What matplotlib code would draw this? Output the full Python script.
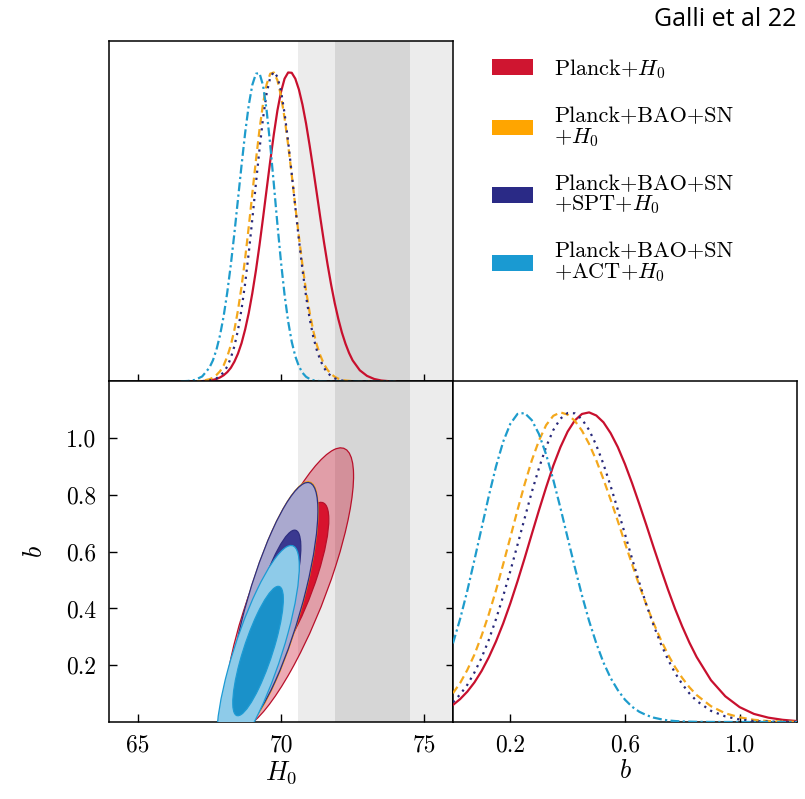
import numpy as np
import matplotlib

matplotlib.use("Agg")
import matplotlib.pyplot as plt
from matplotlib.patches import Ellipse, Patch

plt.rcParams["font.family"] = "serif"
plt.rcParams["font.serif"] = ["cmr10", "DejaVu Serif"]
plt.rcParams["mathtext.fontset"] = "cm"
plt.rcParams["axes.formatter.use_mathtext"] = False
plt.rcParams["axes.linewidth"] = 1.1

# ---- data ----
labels = [
    "Planck+$H_0$",
    "Planck+BAO+SN\n+$H_0$",
    "Planck+BAO+SN\n+SPT+$H_0$",
    "Planck+BAO+SN\n+ACT+$H_0$",
]
colors = ["#cf1530", "#ffa500", "#2a2a86", "#1a9ad2"]

h0_ticks = [65, 70, 75]
h0_tick_labels = ["65", "70", "75"]
b_ticks = [0.2, 0.4, 0.6, 0.8, 1.0]
b_tick_labels = ["0.2", "0.4", "0.6", "0.8", "1.0"]
b_marg_ticks = [0.2, 0.6, 1.0]
b_marg_tick_labels = ["0.2", "0.6", "1.0"]

# SH0ES-like H0 bands (2 sigma light, 1 sigma dark)
band_lo = [70.6, 71.9]
band_hi = [76.0, 74.5]

# 1D marginal of H0 (normalised to peak)
h0_grid = [66.5, 66.75, 67.0, 67.25,
           67.5, 67.625, 67.75, 67.875, 68.0, 68.125, 68.25, 68.375, 68.5, 68.625,
           68.75, 68.875, 69.0, 69.125, 69.25, 69.375, 69.5, 69.625, 69.75, 69.875,
           70.0, 70.125, 70.25, 70.375, 70.5, 70.625, 70.75, 70.875, 71.0, 71.125,
           71.25, 71.375, 71.5, 71.625, 71.75, 71.875, 72.0, 72.125, 72.25, 72.375,
           72.5, 72.75, 73.0, 73.25, 73.5, 73.75, 74.0]
h0_planck = [0.0, 0.0001, 0.0003, 0.001,
             0.003, 0.005, 0.008, 0.013, 0.020, 0.030, 0.044, 0.064, 0.090, 0.124,
             0.168, 0.221, 0.285, 0.358, 0.440, 0.529, 0.621, 0.712, 0.798, 0.875,
             0.935, 0.978, 0.998, 0.997, 0.978, 0.943, 0.894, 0.833, 0.762, 0.686,
             0.607, 0.527, 0.450, 0.378, 0.312, 0.253, 0.202, 0.158, 0.122, 0.092,
             0.068, 0.036, 0.018, 0.008, 0.003, 0.001, 0.0]
h0_bao_sn = [0.0, 0.0001, 0.0006, 0.002,
             0.007, 0.012, 0.021, 0.033, 0.052, 0.080, 0.117, 0.167, 0.230, 0.307,
             0.398, 0.499, 0.607, 0.714, 0.813, 0.898, 0.960, 0.994, 0.998, 0.973,
             0.923, 0.851, 0.764, 0.667, 0.566, 0.468, 0.375, 0.293, 0.223, 0.164,
             0.118, 0.083, 0.056, 0.037, 0.024, 0.015, 0.009, 0.005, 0.003, 0.002,
             0.001, 0.0, 0.0, 0.0, 0.0, 0.0, 0.0]
h0_spt = [0.0, 0.0, 0.0002, 0.0008,
          0.003, 0.006, 0.010, 0.018, 0.030, 0.048, 0.076, 0.114, 0.166, 0.234,
          0.317, 0.415, 0.524, 0.639, 0.750, 0.851, 0.931, 0.982, 1.0, 0.984,
          0.938, 0.866, 0.775, 0.671, 0.563, 0.458, 0.361, 0.275, 0.203, 0.145,
          0.101, 0.068, 0.044, 0.028, 0.017, 0.010, 0.006, 0.003, 0.002, 0.0009,
          0.0004, 0.0, 0.0, 0.0, 0.0, 0.0, 0.0]
h0_act = [0.0004, 0.0015, 0.005, 0.016,
          0.044, 0.068, 0.103, 0.150, 0.211, 0.287, 0.377, 0.479, 0.589, 0.699,
          0.803, 0.892, 0.958, 0.994, 0.996, 0.956, 0.875, 0.764, 0.638, 0.508,
          0.386, 0.280, 0.194, 0.128, 0.081, 0.049, 0.028, 0.015, 0.008, 0.004,
          0.002, 0.0009, 0.0004, 0.0, 0.0, 0.0, 0.0, 0.0, 0.0, 0.0,
          0.0, 0.0, 0.0, 0.0, 0.0, 0.0, 0.0]

# 1D marginal of b
b_grid = [0.0, 0.025, 0.05, 0.075, 0.1, 0.125, 0.15, 0.175, 0.2, 0.225, 0.25,
          0.275, 0.3, 0.325, 0.35, 0.375, 0.4, 0.425, 0.45, 0.475, 0.5, 0.525,
          0.55, 0.575, 0.6, 0.625, 0.65, 0.675, 0.7, 0.725, 0.75, 0.775, 0.8,
          0.825, 0.85, 0.9, 0.95, 1.0, 1.05, 1.1, 1.15, 1.2]
b_planck = [0.055, 0.074, 0.098, 0.128, 0.165, 0.209, 0.260, 0.318, 0.383, 0.454,
            0.529, 0.607, 0.684, 0.758, 0.828, 0.888, 0.938, 0.974, 0.995, 1.0,
            0.990, 0.968, 0.933, 0.888, 0.833, 0.771, 0.704, 0.635, 0.564, 0.495,
            0.428, 0.365, 0.308, 0.256, 0.210, 0.135, 0.083, 0.048, 0.026, 0.014,
            0.007, 0.003]
b_bao_sn = [0.093, 0.126, 0.168, 0.218, 0.279, 0.348, 0.425, 0.509, 0.596, 0.684,
            0.768, 0.845, 0.909, 0.959, 0.989, 1.0, 0.993, 0.973, 0.941, 0.898,
            0.845, 0.784, 0.718, 0.649, 0.578, 0.509, 0.441, 0.378, 0.319, 0.266,
            0.218, 0.177, 0.142, 0.112, 0.087, 0.051, 0.028, 0.015, 0.007, 0.003,
            0.0015, 0.0006]
b_spt = [0.064, 0.089, 0.120, 0.160, 0.208, 0.265, 0.332, 0.406, 0.487, 0.572,
         0.658, 0.743, 0.820, 0.889, 0.943, 0.980, 0.998, 0.997, 0.978, 0.943,
         0.894, 0.833, 0.762, 0.686, 0.607, 0.527, 0.450, 0.378, 0.312, 0.253,
         0.202, 0.158, 0.122, 0.092, 0.068, 0.036, 0.018, 0.008, 0.003, 0.0014,
         0.0005, 0.0002]
b_act = [0.254, 0.333, 0.424, 0.524, 0.627, 0.730, 0.825, 0.905, 0.963, 0.995,
         0.998, 0.975, 0.930, 0.864, 0.782, 0.691, 0.595, 0.500, 0.409, 0.326,
         0.254, 0.192, 0.142, 0.103, 0.072, 0.049, 0.033, 0.022, 0.014, 0.009,
         0.005, 0.003, 0.0017, 0.001, 0.0005, 0.0001, 0.0, 0.0, 0.0, 0.0,
         0.0, 0.0]

# 2D posteriors (H0, b): means, widths and correlation of each contour set
contour_h0_mean = [70.30, 69.76, 69.75, 69.20]
contour_b_mean = [0.47, 0.41, 0.41, 0.25]
contour_h0_sigma = [0.90, 0.62, 0.62, 0.58]
contour_b_sigma = [0.20, 0.176, 0.175, 0.15]
contour_rho = [0.80, 0.77, 0.77, 0.80]
contour_radius = [2.48, 1.52]  # 95% then 68% region, in sigma units

fill_outer = ["#cf1530", "#ffd27f", "#aaa9cf", "#8ecbe9"]
fill_outer_alpha = [0.36, 1.0, 1.0, 1.0]
fill_inner = ["#d8132e", "#ffa500", "#3a3990", "#1a91c9"]
edge_colors = ["#b8102a", "#f2a000", "#2e2e80", "#1c9bd4"]

line_styles = ["-", (0, (3.5, 2.0)), (0, (1.0, 2.2)), (0, (4.0, 1.5, 1.0, 1.5))]
line_colors = ["#c8102e", "#f4a81c", "#28287a", "#1e9ccc"]

h0_curves = [h0_planck, h0_bao_sn, h0_spt, h0_act]
b_curves = [b_planck, b_bao_sn, b_spt, b_act]

TICK_FONT = {"fontfamily": "cmr10", "fontsize": 17}


def draw_ellipse(ax, i, k, face, alpha, edge, z):
    sh, sb, r = contour_h0_sigma[i], contour_b_sigma[i], contour_rho[i]
    cov = np.array([[sh**2, r * sh * sb], [r * sh * sb, sb**2]])
    vals, vecs = np.linalg.eigh(cov)
    angle = np.degrees(np.arctan2(vecs[1, 1], vecs[0, 1]))
    centre = (contour_h0_mean[i], contour_b_mean[i])
    w, h = 2 * k * np.sqrt(vals[1]), 2 * k * np.sqrt(vals[0])
    ax.add_patch(Ellipse(centre, w, h, angle=angle, facecolor=face,
                         alpha=alpha, edgecolor="none", zorder=z))
    ax.add_patch(Ellipse(centre, w, h, angle=angle, facecolor="none",
                         edgecolor=edge, lw=0.9, zorder=z + 0.5))


def shade_bands(ax):
    ax.axvspan(band_lo[0], band_hi[0], color="#ececec", lw=0, zorder=0)
    ax.axvspan(band_lo[1], band_hi[1], color="#d6d6d6", lw=0, zorder=0.1)


def main() -> None:
    fig = plt.figure(figsize=(8.05, 7.99), dpi=100)
    ax_h0 = fig.add_axes([0.1354, 0.5226, 0.4273, 0.4262])
    ax_2d = fig.add_axes([0.1354, 0.0964, 0.4273, 0.4262])
    ax_b = fig.add_axes([0.5627, 0.0964, 0.4273, 0.4262])

    # top: H0 marginal
    shade_bands(ax_h0)
    for y, ls, c in zip(h0_curves, line_styles, line_colors):
        ax_h0.plot(h0_grid, y, linestyle=ls, color=c, lw=1.6, zorder=3)
    ax_h0.set_xlim(64, 76)
    ax_h0.set_ylim(0, 1.1)
    ax_h0.set_xticks(h0_ticks)
    ax_h0.set_yticks([])
    ax_h0.tick_params(axis="x", direction="inout", length=10, width=1.0,
                      labelbottom=False)

    # bottom left: 2D contours
    shade_bands(ax_2d)
    for i in range(4):
        z = 2 + 3 * i
        draw_ellipse(ax_2d, i, contour_radius[0], fill_outer[i],
                     fill_outer_alpha[i], edge_colors[i], z)
        draw_ellipse(ax_2d, i, contour_radius[1], fill_inner[i], 1.0,
                     edge_colors[i], z + 1)
    ax_2d.set_xlim(64, 76)
    ax_2d.set_ylim(0, 1.2)
    ax_2d.set_xticks(h0_ticks, h0_tick_labels, **TICK_FONT)
    ax_2d.set_yticks(b_ticks, b_tick_labels, **TICK_FONT)
    ax_2d.tick_params(direction="in", length=6, width=1.0, pad=9)
    sec = ax_2d.secondary_yaxis("right")
    sec.set_yticks(b_ticks)
    sec.tick_params(direction="inout", length=10, width=1.0, labelright=False)
    ax_2d.set_xlabel("$H_0$", fontsize=19, labelpad=2)
    ax_2d.set_ylabel("$b$", fontsize=19, labelpad=14)

    # bottom right: b marginal
    for y, ls, c in zip(b_curves, line_styles, line_colors):
        ax_b.plot(b_grid, y, linestyle=ls, color=c, lw=1.6, zorder=3)
    ax_b.set_xlim(0, 1.2)
    ax_b.set_ylim(0, 1.1)
    ax_b.set_xticks(b_marg_ticks, b_marg_tick_labels, **TICK_FONT)
    ax_b.set_yticks([])
    ax_b.tick_params(direction="in", length=6, width=1.0, pad=9)
    ax_b.set_xlabel("$b$", fontsize=19, labelpad=2)

    handles = [Patch(facecolor=c, edgecolor="none") for c in colors]
    leg = fig.legend(handles, labels, loc="upper left",
                     bbox_to_anchor=(0.611, 1 - 57 / 799), frameon=False,
                     fontsize=16, handlelength=1.85, handleheight=0.72,
                     handletextpad=0.95, labelspacing=1.15, borderpad=0,
                     borderaxespad=0)
    for t in leg.get_texts():
        t.set_linespacing(1.0)

    fig.text(0.99, 1 - 20 / 799, "Galli et al 22", ha="right", va="center",
             family="Open Sans", fontsize=18)

    fig.savefig("out.png", dpi=100)


if __name__ == "__main__":
    main()
